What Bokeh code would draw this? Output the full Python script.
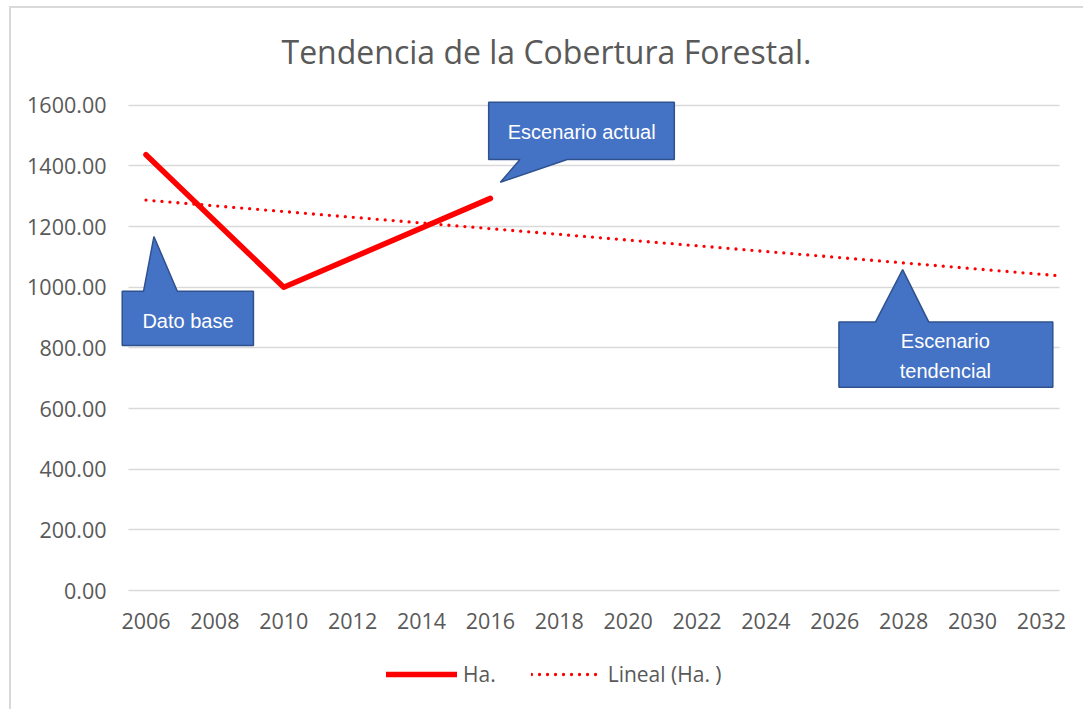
import numpy as np
from bokeh.plotting import figure
from bokeh.models import Range1d, FixedTicker, PrintfTickFormatter, Legend, LegendItem
from bokeh.core.properties import value
from bokeh.embed import file_html
from bokeh.resources import INLINE

# ---- data ----
years = [2006, 2010, 2016]
ha = [1437, 1000, 1293]
trend_years = [2006, 2032.4]
x_ticks = list(range(2006, 2033, 2))
y_ticks = [0, 200, 400, 600, 800, 1000, 1200, 1400, 1600]

title_text = "Tendencia de la Cobertura Forestal."
series_label = "Ha."
trend_label = "Lineal (Ha. )"

# callouts: box (left, right, top, bottom), pointer base x pair, pointer tip (x, y), text position
callout_texts = ["Dato base", "Escenario actual", "Escenario\ntendencial"]
callout_boxes = [(2005.31, 2009.12, 987, 808),
                 (2015.95, 2021.34, 1610, 1421),
                 (2026.12, 2032.33, 885, 670)]
callout_bases = [(2005.93, 2006.91), (2016.86, 2018.23), (2027.18, 2028.73)]
callout_tips = [(2006.23, 1167), (2016.29, 1346), (2027.97, 1058)]
callout_sides = ["top", "bottom", "top"]
callout_text_x = [2007.22, 2018.65, 2029.21]
callout_text_y = [890, 1513, 773]

GRAY = "#595959"
RED = "#FF0000"

p = figure(width=1083, height=709, output_backend="svg", toolbar_location=None,
           x_range=Range1d(2005.26, 2033.105), y_range=Range1d(-379, 1619),
           min_border_left=120, min_border_right=4, min_border_top=99,
           min_border_bottom=4, title=title_text)
p.outline_line_color = None
p.background_fill_color = "white"
p.border_fill_color = None
p.styles = {"background": "linear-gradient(#d9d9d9,#d9d9d9) 9px 6px / 2px 100% no-repeat, "
                          "linear-gradient(#d9d9d9,#d9d9d9) 9px 6px / 100% 2px no-repeat, white"}

p.title.text_font = "Open Sans"
p.title.text_font_size = "32px"
p.title.text_font_style = "normal"
p.title.text_color = GRAY
p.title.align = "left"
p.title.offset = 161
p.title.standoff = 53

# axes
for ax in (p.xaxis[0], p.yaxis[0]):
    ax.axis_line_color = None
    ax.major_tick_line_color = None
    ax.minor_tick_line_color = None
    ax.major_label_text_font = "Open Sans"
    ax.major_label_text_font_size = "21.5px"
    ax.major_label_text_color = GRAY
p.xaxis.ticker = FixedTicker(ticks=x_ticks)
p.xaxis.formatter = PrintfTickFormatter(format="%d")
p.xaxis.major_label_standoff = 16
p.xaxis.fixed_location = 0
p.yaxis.ticker = FixedTicker(ticks=y_ticks)
p.yaxis.formatter = PrintfTickFormatter(format="%.2f")
p.yaxis.major_label_standoff = 8

p.xgrid.grid_line_color = None
p.ygrid.grid_line_color = "#d9d9d9"
p.ygrid.grid_line_width = 1.3
if "cross_bounds" in p.ygrid.properties():
    p.ygrid.cross_bounds = (2005.49, 2032.52)

# trend line (linear fit like the spreadsheet's trendline)
coef = np.polyfit(years, ha, 1)
trend_vals = list(np.polyval(coef, trend_years))
r_trend = p.line(trend_years, trend_vals, line_color=RED, line_width=3.3,
                 line_dash="0 8", line_cap="round")

r_main = p.line(years, ha, line_color=RED, line_width=5.5, line_cap="round",
                line_join="round")

# callouts
xs, ys = [], []
for (L, R, T, B), (b1, b2), (tx, ty), side in zip(callout_boxes, callout_bases,
                                                 callout_tips, callout_sides):
    if side == "top":
        xs.append([L, b1, tx, b2, R, R, L])
        ys.append([T, T, ty, T, T, B, B])
    else:
        xs.append([L, R, R, b2, tx, b1, L])
        ys.append([T, T, B, B, ty, B, B])
p.patches(xs, ys, fill_color="#4472C4", line_color="#2F528F", line_width=1.5)
p.text(callout_text_x, callout_text_y, text=callout_texts, text_color="white",
       text_font=value("Liberation Sans"), text_font_size="20px",
       text_align="center", text_baseline="middle", text_line_height=1.35)

legend = Legend(items=[LegendItem(label=series_label, renderers=[r_main]),
                       LegendItem(label=trend_label, renderers=[r_trend])],
                orientation="horizontal", location=(266, 16),
                glyph_width=71, glyph_height=30, label_height=30,
                label_standoff=6, spacing=35, padding=0, margin=0,
                border_line_color=None, background_fill_alpha=0,
                label_text_font="Open Sans", label_text_font_size="21px",
                label_text_color=GRAY)
p.add_layout(legend, "center")

open("out.html", "w").write(file_html(p, INLINE))
